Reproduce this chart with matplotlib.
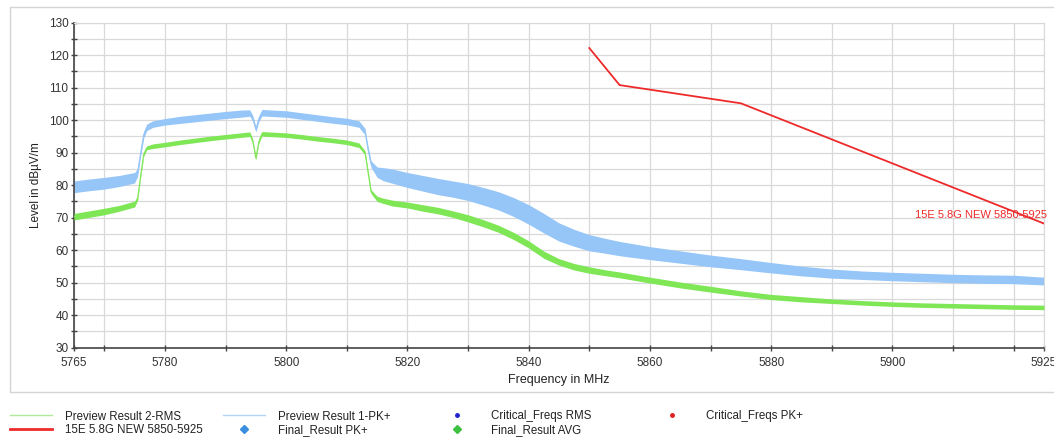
import matplotlib
matplotlib.use('Agg')
from matplotlib import pyplot as plt
from matplotlib.ticker import MultipleLocator, FixedLocator

plt.rcParams['font.family'] = ['Liberation Sans', 'DejaVu Sans']

freq = [5765, 5767.5, 5770, 5772.5, 5775, 5775.5, 5776, 5776.5, 5777, 5778,
        5780, 5782.5, 5785, 5787.5, 5790, 5792.5, 5794, 5794.5, 5795, 5795.5,
        5796, 5798, 5800, 5802.5, 5805, 5807.5, 5810, 5812, 5813, 5813.5,
        5814, 5815, 5816, 5817.5, 5820, 5822.5, 5825, 5827.5, 5830, 5832.5,
        5835, 5837.5, 5840, 5842.5, 5845, 5847.5, 5850, 5852.5, 5855, 5860,
        5865, 5870, 5875, 5880, 5885, 5890, 5895, 5900, 5905, 5910,
        5915, 5920, 5925]

# Preview Result 1-PK+ (centre of trace and half width of its noise)
pk = [79.5, 80.1, 80.6, 81.3, 82.3, 84, 90, 95.5, 97.8, 98.8,
      99.5, 100.1, 100.6, 101.1, 101.6, 102, 102.2, 100.5, 97.2, 100.5,
      102.3, 102.1, 101.9, 101.3, 100.7, 100.1, 99.6, 98.8, 96.5, 91,
      86.5, 84, 83.4, 82.8, 81.6, 80.6, 79.6, 78.8, 77.9, 76.6,
      75.2, 73.3, 71, 68.3, 65.6, 63.8, 62.3, 61.4, 60.5, 59.1,
      57.9, 56.7, 55.7, 54.6, 53.6, 52.8, 52.3, 51.9, 51.6, 51.3,
      51.1, 51, 50.5]
pk_spread = [1.8, 1.8, 1.8, 1.7, 1.6, 1.2, 1.0, 1.0, 1.0, 1.0,
             1.0, 1.1, 1.1, 1.1, 1.1, 1.1, 1.0, 0.9, 0.8, 0.9,
             1.0, 1.0, 1.0, 1.0, 1.0, 1.0, 1.0, 1.0, 1.0, 1.0,
             1.0, 1.6, 2.0, 2.2, 2.3, 2.4, 2.5, 2.5, 2.6, 2.7,
             2.8, 2.9, 3.0, 3.0, 2.8, 2.6, 2.5, 2.3, 2.2, 2.0,
             1.9, 1.8, 1.7, 1.6, 1.5, 1.4, 1.3, 1.3, 1.3, 1.3,
             1.3, 1.3, 1.2]

# Preview Result 2-RMS
rms = [70.3, 71.1, 71.9, 72.9, 74.2, 76, 83, 89.5, 91.5, 92,
       92.5, 93.2, 93.8, 94.4, 94.9, 95.4, 95.7, 93.5, 88.3, 93.5,
       95.8, 95.6, 95.4, 94.9, 94.3, 93.8, 93.2, 92.3, 90, 84,
       78, 75.8, 75.2, 74.5, 73.9, 73, 72.2, 71.1, 69.8, 68.3,
       66.6, 64.4, 61.8, 58.6, 56.4, 54.9, 53.9, 53.1, 52.4, 50.8,
       49.3, 48, 46.7, 45.6, 44.9, 44.3, 43.8, 43.4, 43.1, 42.9,
       42.7, 42.5, 42.4]
rms_spread = [1.0, 1.0, 1.0, 0.9, 0.9, 0.6, 0.6, 0.6, 0.6, 0.7,
              0.7, 0.7, 0.7, 0.7, 0.7, 0.7, 0.7, 0.6, 0.5, 0.6,
              0.7, 0.7, 0.7, 0.7, 0.7, 0.7, 0.7, 0.7, 0.6, 0.6,
              0.6, 0.8, 0.8, 0.9, 0.9, 1.0, 1.0, 1.0, 1.1, 1.1,
              1.1, 1.1, 1.1, 1.1, 1.0, 1.0, 1.0, 0.9, 0.9, 0.9,
              0.9, 0.9, 0.8, 0.8, 0.8, 0.7, 0.7, 0.7, 0.7, 0.7,
              0.7, 0.7, 0.7]

# 15E 5.8G NEW 5850-5925 limit line
lim_f = [5850, 5855, 5875, 5925]
lim_v = [122.2, 110.8, 105.2, 68.2]

x_ticks = [5765, 5770, 5780, 5790, 5800, 5810, 5820, 5830, 5840, 5850,
           5860, 5870, 5880, 5890, 5900, 5910, 5920, 5925]
x_labels = ['5765', '', '5780', '', '5800', '', '5820', '', '5840', '',
            '5860', '', '5880', '', '5900', '', '', '5925']

blue = '#95c6f7'
green = '#7fe655'
red = '#ee2a2a'

fig = plt.figure(figsize=(10.54, 4.38), dpi=100)
# outer light frame
fig.patches.append(plt.Rectangle((10 / 1054, 1 - 392 / 438), 1.2, 385 / 438,
                                 transform=fig.transFigure, fill=False,
                                 edgecolor='#d4d4d4', lw=1))
ax = fig.add_axes([74 / 1054, 1 - 347.7 / 438, 970 / 1054, 325 / 438])

lo = [c - s for c, s in zip(pk, pk_spread)]
hi = [c + s for c, s in zip(pk, pk_spread)]
ax.fill_between(freq, lo, hi, color=blue, lw=0, zorder=2)
ax.plot(freq, pk, color=blue, lw=0.8, zorder=2)
lo = [c - s for c, s in zip(rms, rms_spread)]
hi = [c + s for c, s in zip(rms, rms_spread)]
ax.fill_between(freq, lo, hi, color=green, lw=0, zorder=3)
ax.plot(freq, rms, color=green, lw=0.8, zorder=3)
ax.plot(lim_f, lim_v, color=red, lw=1.3, zorder=4)
ax.text(5903.7, 70.8, '15E 5.8G NEW 5850-5925', color=red, fontsize=8,
        va='center', ha='left', clip_on=False, zorder=5)

ax.set_xlim(5765, 5925)
ax.set_ylim(30, 130)
ax.xaxis.set_major_locator(FixedLocator(x_ticks))
ax.set_xticklabels(x_labels)
ax.yaxis.set_major_locator(MultipleLocator(10))
ax.yaxis.set_minor_locator(MultipleLocator(5))
ax.grid(True, which='both', color='#d9d9d9', lw=0.9, zorder=0)
ax.set_axisbelow(True)
ax.tick_params(axis='both', which='both', direction='inout', length=4,
               width=1, color='#444444', labelsize=8.5, labelcolor='#333333', pad=2)
ax.tick_params(axis='x', pad=5)
for s in ['top', 'right']:
    ax.spines[s].set_color('#d9d9d9')
for s in ['left', 'bottom']:
    ax.spines[s].set_color('#444444')
    ax.spines[s].set_linewidth(1.2)
ax.set_xlabel('Frequency in MHz', fontsize=9, color='#222222', labelpad=3)
ax.set_ylabel('Level in dBµV/m', fontsize=8.5, color='#222222', labelpad=5)

# legend handles (the markers have no points on the chart)
h_rms, = ax.plot([], [], color='#aeea98', lw=1)
h_lim, = ax.plot([], [], color=red, lw=2)
h_pk, = ax.plot([], [], color='#b5d4f5', lw=1)
h_fpk, = ax.plot([], [], 'D', color='#3a8ee0', ms=4, ls='none')
h_crms, = ax.plot([], [], 'o', color='#2020d0', ms=2.5, ls='none')
h_favg, = ax.plot([], [], 'D', color='#40c040', ms=4, ls='none')
h_cpk, = ax.plot([], [], 'o', color='#e02020', ms=2.5, ls='none')

cols = [([h_rms, h_lim], ['Preview Result 2-RMS', '15E 5.8G NEW 5850-5925']),
        ([h_pk, h_fpk], ['Preview Result 1-PK+', 'Final_Result PK+']),
        ([h_crms, h_favg], ['Critical_Freqs RMS', 'Final_Result AVG']),
        ([h_cpk], ['Critical_Freqs PK+'])]
starts = [10, 223, 436, 651]
for (hs, ls), x0 in zip(cols, starts):
    fig.legend(hs, ls, loc='upper left', bbox_to_anchor=(x0 / 1054, 1 - 410.5 / 438),
               frameon=False, fontsize=8.3, handlelength=3.65, handletextpad=1.1,
               labelspacing=0.1, borderpad=0, borderaxespad=0, labelcolor='#222222')

fig.savefig('out.png', dpi=100)
